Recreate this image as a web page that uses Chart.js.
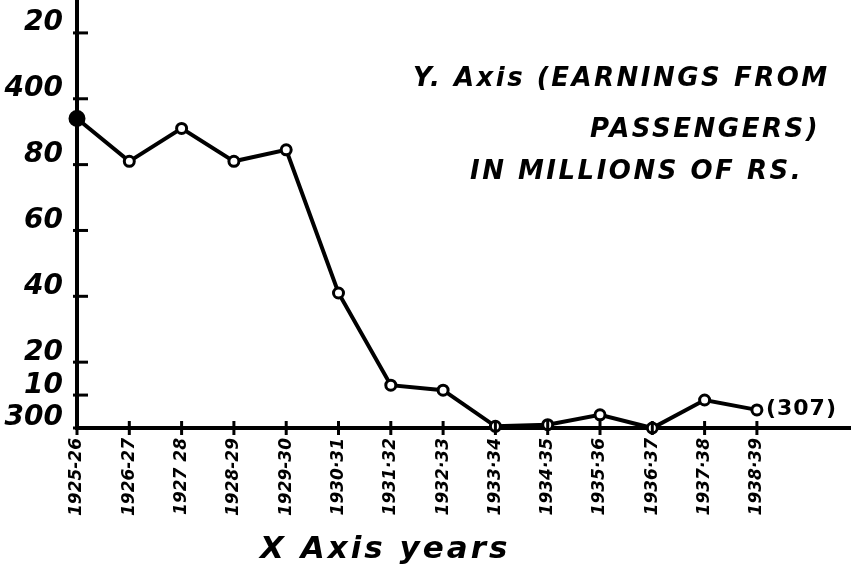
<!DOCTYPE html>
<html><head><meta charset="utf-8">
<script src="https://cdn.jsdelivr.net/npm/chart.js@4"></script>
<style>html,body{margin:0;padding:0;background:#fff;}#wrap{width:857px;height:572px;position:relative}</style>
</head><body><div id="wrap"><canvas id="c" width="857" height="572"></canvas></div>
<script>
const years = ["1925-26","1926-27","1927 28","1928-29","1929-30","1930·31","1931·32","1932·33","1933·34","1934·35","1935·36","1936·37","1937·38","1938·39"];
const earnings = [394, 381, 391, 381, 384.5, 341, 313, 311.5, 300.5, 301, 304, 300, 308.5, 305.5];
const yTickValues = [300, 310, 320, 340, 360, 380, 400, 420];
const yTickLabels = ["300", "10", "20", "40", "60", "80", "400", "20"];
const lastNote = "(307)";
const titleLines = ["Y. Axis (EARNINGS FROM", "PASSENGERS)", "IN MILLIONS OF RS."];
const xTitle = "X Axis years";

const FONT = "'DejaVu Sans', 'Liberation Sans', sans-serif";

const decor = {
  id: 'decor',
  afterDraw(chart) {
    const ctx = chart.ctx, xs = chart.scales.x, ys = chart.scales.y;
    const a = chart.chartArea;
    ctx.save();
    ctx.strokeStyle = '#000';
    ctx.lineWidth = 3;
    years.forEach((_, i) => {
      const px = xs.getPixelForValue(i);
      ctx.beginPath(); ctx.moveTo(px, a.bottom - 7); ctx.lineTo(px, a.bottom + 7); ctx.stroke();
    });
    yTickValues.forEach(v => {
      const py = ys.getPixelForValue(v);
      ctx.beginPath(); ctx.moveTo(a.left - 4, py); ctx.lineTo(a.left + 11, py); ctx.stroke();
    });
    ctx.fillStyle = '#000';
    ctx.textAlign = 'left';
    ctx.textBaseline = 'alphabetic';
    ctx.font = "italic bold 26px " + FONT;
    ctx.letterSpacing = '2.5px';
    ctx.fillText(titleLines[0], 413, 86);
    ctx.fillText(titleLines[1], 590, 137);
    ctx.fillText(titleLines[2], 470, 179);
    ctx.font = "italic bold 31px " + FONT;
    ctx.letterSpacing = '3px';
    ctx.fillText(xTitle, 260, 558);
    ctx.letterSpacing = '1px';
    const li = earnings.length - 1;
    const lx = xs.getPixelForValue(li), ly = ys.getPixelForValue(earnings[li]);
    ctx.textBaseline = 'middle';
    ctx.font = "bold 22px " + FONT;
    ctx.fillText(lastNote, lx + 9, ly - 1);
    ctx.restore();
  }
};

new Chart(document.getElementById('c'), {
  type: 'line',
  data: {
    datasets: [{
      data: earnings.map((v, i) => ({ x: i, y: v })),
      borderColor: '#000',
      borderWidth: 4,
      tension: 0,
      clip: false,
      pointRadius: ctx => ctx.dataIndex === 0 ? 7 : 5,
      pointBorderWidth: 3,
      pointBorderColor: '#000',
      pointBackgroundColor: ctx => ctx.dataIndex === 0 ? '#000' : '#fff'
    }]
  },
  plugins: [decor],
  options: {
    responsive: false,
    devicePixelRatio: 1,
    animation: false,
    layout: { autoPadding: false, padding: { top: 0, right: 7, left: 0, bottom: 0 } },
    plugins: { legend: { display: false }, tooltip: { enabled: false } },
    scales: {
      x: {
        type: 'linear',
        min: 0,
        max: 14.78,
        afterBuildTicks: s => { s.ticks = years.map((_, i) => ({ value: i })); },
        afterFit: s => { s.height = 144; s.paddingLeft = 0; s.paddingRight = 0; },
        border: { display: true, color: '#000', width: 4 },
        grid: { display: false, drawTicks: false },
        ticks: {
          autoSkip: false,
          maxRotation: 90, minRotation: 90,
          padding: 10,
          color: '#000',
          font: { family: FONT, size: 17, weight: 'bold', style: 'italic' },
          callback: v => years[v]
        }
      },
      y: {
        type: 'linear',
        min: 300,
        max: 430,
        afterBuildTicks: s => { s.ticks = yTickValues.map(v => ({ value: v })); },
        afterFit: s => { s.width = 77; s.paddingTop = 0; s.paddingBottom = 0; },
        border: { display: true, color: '#000', width: 4 },
        grid: { display: false, drawTicks: false },
        ticks: {
          padding: 14,
          color: '#000',
          font: { family: FONT, size: 28, weight: 'bold', style: 'italic', lineHeight: 0.7 },
          callback: v => [yTickLabels[yTickValues.indexOf(v)], ""]
        }
      }
    }
  }
});
</script>
</body></html>
